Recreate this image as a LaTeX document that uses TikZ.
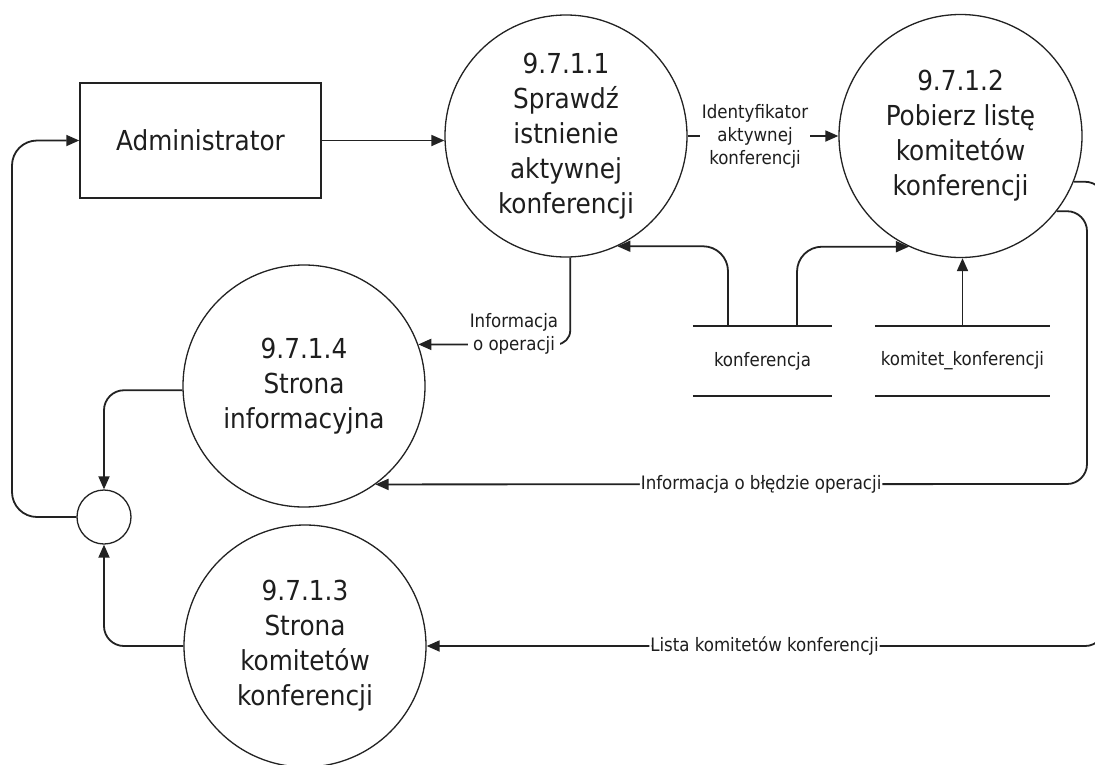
\documentclass[tikz,border=0pt]{standalone}
\usepackage{fontspec}
\setmainfont{DejaVu Sans Condensed}
\usetikzlibrary{arrows.meta}
\definecolor{linec}{HTML}{222222}
\definecolor{textc}{HTML}{1e1e1e}
\newcommand\dfBig{\fontsize{27.5pt}{35pt}\selectfont}
\newcommand\dfSmall{\fontsize{18.5pt}{23pt}\selectfont}
\tikzset{
  proc/.style={circle, draw=linec, line width=1.3pt, minimum size=#1, inner sep=0pt, align=center, font=\dfBig, text=textc},
  entity/.style={rectangle, draw=linec, line width=1.5pt, minimum width=241pt, minimum height=115pt, inner sep=0pt, font=\dfBig, text=textc},
  junction/.style={circle, draw=linec, line width=1.3pt, minimum size=54pt, inner sep=0pt},
  store/.style={rectangle, minimum height=70pt, inner sep=0pt, font=\dfSmall, text=textc},
  storeline/.style={draw=linec, line width=1.6pt},
  arr/.style={draw=linec, line width=1.8pt, -{Triangle[length=13pt,width=11pt]}},
  lbl/.style={fill=white, inner sep=1.5pt, align=center, font=\dfSmall, text=textc}
}
\begin{document}
\begin{tikzpicture}[x=1pt,y=-1pt]
\useasboundingbox (0,0) rectangle (1095,764);
\fill[white] (0,0) rectangle (1095,764);
\clip (0,0) rectangle (1095,764);

% nodes
\node[entity] (admin) at (200.5,140.5) {Administrator};
\node[proc=242pt] (c1) at (566,136) {9.7.1.1\\Sprawdź\\istnienie\\aktywnej\\konferencji};
\node[proc=243pt] (c2) at (960.5,136) {9.7.1.2\\Pobierz listę\\komitetów\\konferencji};
\node[proc=242pt] (c4) at (304,386) {9.7.1.4\\Strona\\informacyjna};
\node[proc=242pt] (c3) at (305,646) {9.7.1.3\\Strona\\komitetów\\konferencji};
\node[junction] (j) at (104,517) {};

\node[store, minimum width=139pt] (konf) at (762.5,361) {konferencja};
\node[store, minimum width=175pt] (kom) at (962.5,361) {komitet\_konferencji};
\draw[storeline] (konf.north west) -- (konf.north east);
\draw[storeline] (konf.south west) -- (konf.south east);
\draw[storeline] (kom.north west) -- (kom.north east);
\draw[storeline] (kom.south west) -- (kom.south east);

% bend coordinates
\coordinate (lft) at (12,517);
\coordinate (r1) at (1087,484);
\coordinate (r2) at (1105,646);

% connectors
\draw[arr] (admin.east) -- (admin.east -| c1.west);
\draw[arr] (c1) -- node[lbl,pos=0.447] {Identyfikator\\aktywnej\\konferencji} (c2);
\draw[arr,rounded corners=14pt] (c1.-88) |- (c4.20.3);
\node[lbl] (l1) at (514,334) {Informacja\\o operacji};
\draw[arr,rounded corners=25pt] ([xshift=-34.5pt]konf.north) |- (c1.-65.4);
\draw[arr,rounded corners=25pt] ([xshift=34.5pt]konf.north) |- (c2.-115.2);
\draw[arr] (kom.north) -- (kom.north |- c2.south);
\draw[arr,rounded corners=20pt] (c2.-38.7) -| (r1) -- node[lbl,pos=0.458,inner sep=1pt] {Informacja o błędzie operacji} (c4.-54.1);
\draw[arr,rounded corners=20pt] (c2.-22.25) -| (r2) -- node[lbl,pos=0.502,inner sep=1pt] {Lista komitetów konferencji} (c3.east);
\draw[arr,rounded corners=20pt] (c4.182.8) -| (j.north);
\draw[arr,rounded corners=20pt] (c3.west) -| (j.south);
\draw[arr,rounded corners=25pt] (j.west) -- (lft) |- (admin.west);
\end{tikzpicture}
\end{document}
